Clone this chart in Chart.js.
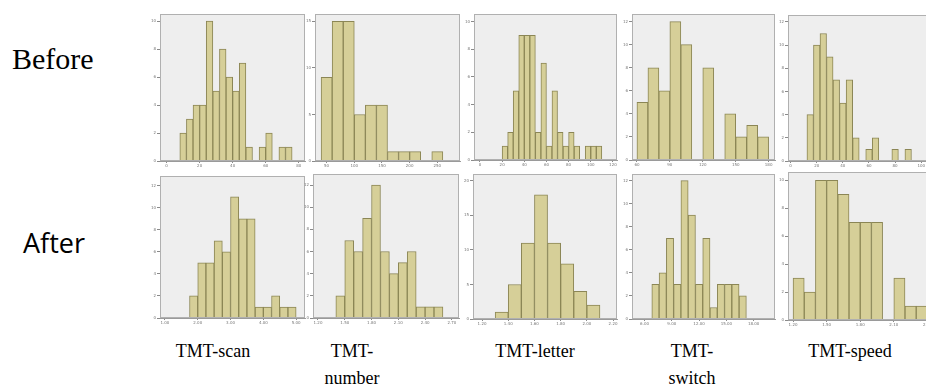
<!DOCTYPE html>
<html><head><meta charset="utf-8">
<script src="https://cdn.jsdelivr.net/npm/chart.js@4.4.0/dist/chart.umd.min.js"></script>
<style>
html,body{margin:0;padding:0;background:#fff;width:926px;height:390px;overflow:hidden;position:relative;}
canvas{position:absolute;}
.lbl{position:absolute;white-space:nowrap;line-height:1;color:#000;}
.row{font-family:'Liberation Serif','Times New Roman',serif;font-size:30px;}
.after{font-family:'Open Sans',sans-serif;font-size:27px;}
.cap{font-family:'Liberation Serif','Times New Roman',serif;font-size:18px;transform:translateX(-50%);}
</style></head><body>
<div class="lbl row" style="left:12px;top:44px;">Before</div>
<div class="lbl after" style="left:23px;top:229px;">After</div>
<div class="lbl cap" style="left:213px;top:342px;">TMT-scan</div>
<div class="lbl cap" style="left:352px;top:342px;">TMT-</div>
<div class="lbl cap" style="left:352px;top:369px;">number</div>
<div class="lbl cap" style="left:535px;top:342px;">TMT-letter</div>
<div class="lbl cap" style="left:692px;top:342px;">TMT-</div>
<div class="lbl cap" style="left:692px;top:369px;">switch</div>
<div class="lbl cap" style="left:850px;top:342px;">TMT-speed</div>
<script>
// ---- data (bin centres and counts) ----
const scanBeforeBins   = [10,14,18,22,26,30,34,38,42,46,50,54,58,62,66,70,74];
const scanBeforeCounts = [2,3,4,4,10,5,8,6,5,7,1,0,1,2,0,1,1];

const numberBeforeBins   = [50,70,90,110,130,150,170,190,210,230,250];
const numberBeforeCounts = [9,15,15,5,6,6,1,1,1,0,1];

const letterBeforeBins   = [22.5,27.5,32.5,37.5,42.5,47.5,52.5,57.5,62.5,67.5,72.5,77.5,82.5,87.5,92.5,97.5,102.5,107.5];
const letterBeforeCounts = [1,2,5,9,9,9,2,7,1,5,2,1,2,1,0,1,1,1];

const switchBeforeBins   = [65,75,85,95,105,115,125,135,145,155,165,175];
const switchBeforeCounts = [5,8,6,12,10,0,8,0,4,2,3,2];

const speedBeforeBins   = [15,20,25,30,35,40,45,50,55,60,65,70,75,80,85,90];
const speedBeforeCounts = [4,10,11,9,7,5,7,2,0,1,2,0,0,1,0,1];

const scanAfterBins   = [1.875,2.125,2.375,2.625,2.875,3.125,3.375,3.625,3.875,4.125,4.375,4.625,4.875];
const scanAfterCounts = [2,5,5,7,6,11,9,9,1,1,2,1,1];

const numberAfterBins   = [1.45,1.55,1.65,1.75,1.85,1.95,2.05,2.15,2.25,2.35,2.45,2.55];
const numberAfterCounts = [2,7,6,9,12,6,4,5,6,1,1,1];

const letterAfterBins   = [1.35,1.45,1.55,1.65,1.75,1.85,1.95,2.05];
const letterAfterCounts = [1,5,11,18,11,8,4,2];

const switchAfterBins   = [7.2,8.0,8.8,9.6,10.4,11.2,12.0,12.8,13.6,14.4,15.2,16.0,16.8];
const switchAfterCounts = [3,4,7,3,12,9,3,7,1,3,3,3,2];

const speedAfterBins   = [1.25,1.35,1.45,1.55,1.65,1.75,1.85,1.95,2.05,2.15,2.25,2.35];
const speedAfterCounts = [3,2,10,10,9,7,7,7,0,3,1,1];

// ---- axis settings: [xMin, xMax, xStep, decimals, yMax, yStep] ----
const panels = [
  {bins: scanBeforeBins,   counts: scanBeforeCounts,   ax: [-4, 83.8, 20, 0, 10.5, 2],    rect: [160,14,305,161]},
  {bins: numberBeforeBins, counts: numberBeforeCounts, ax: [29, 291, 50, 0, 15.8, 5],     rect: [315,14,460,161]},
  {bins: letterBeforeBins, counts: letterBeforeCounts, ax: [-5.4, 123.7, 20, 0, 10.55, 2],rect: [474,14,617,160]},
  {bins: switchBeforeBins, counts: switchBeforeCounts, ax: [55.5, 185.8, 30, 0, 12.66, 2],rect: [632,14,775,160]},
  {bins: speedBeforeBins,  counts: speedBeforeCounts,  ax: [-2, 109, 20, 0, 12.6, 2],     rect: [788,15,933,161]},
  {bins: scanAfterBins,    counts: scanAfterCounts,    ax: [0.85, 5.27, 1, 2, 12.88, 2],  rect: [160,176,305,318]},
  {bins: numberAfterBins,  counts: numberAfterCounts,  ax: [1.144, 2.78, 0.3, 2, 13, 2],  rect: [313,174,459,318]},
  {bins: letterAfterBins,  counts: letterAfterCounts,  ax: [1.131, 2.23, 0.2, 2, 21, 5],  rect: [473,174,617,319]},
  {bins: switchAfterBins,  counts: switchAfterCounts,  ax: [4.62, 20.35, 3, 2, 12.57, 2], rect: [632,174,775,319]},
  {bins: speedAfterBins,   counts: speedAfterCounts,   ax: [1.155, 2.45, 0.3, 2, 10.6, 2],rect: [788,172,933,320]}
];

const Y_W = 12, X_H = 10, PAD_T = 4, PAD_R = 6;

const framePlugin = {
  id: 'frame',
  beforeDraw(chart) {
    const {ctx, chartArea: a} = chart;
    ctx.save();
    ctx.fillStyle = '#eeeeee';
    ctx.fillRect(a.left, a.top, a.right - a.left, a.bottom - a.top);
    ctx.restore();
  },
  afterDatasetsDraw(chart) {
    const {ctx, chartArea: a} = chart;
    ctx.save();
    ctx.strokeStyle = '#b0b0b0';
    ctx.lineWidth = 1;
    ctx.strokeRect(Math.round(a.left) + 0.5, Math.round(a.top) + 0.5,
                   Math.round(a.right - a.left) - 1, Math.round(a.bottom - a.top) - 1);
    ctx.restore();
  }
};

panels.forEach((p, i) => {
  const [L, T, R, B] = p.rect;
  const cv = document.createElement('canvas');
  const w = (R - L) + Y_W + PAD_R, h = (B - T) + PAD_T + X_H;
  cv.width = w; cv.height = h;
  cv.style.left = (L - Y_W) + 'px';
  cv.style.top = (T - PAD_T) + 'px';
  cv.style.width = w + 'px'; cv.style.height = h + 'px';
  document.body.appendChild(cv);
  const [xMin, xMax, xStep, dec, yMax, yStep] = p.ax;
  new Chart(cv, {
    type: 'bar',
    data: {
      datasets: [{
        data: p.bins.map((x, k) => ({x: x, y: p.counts[k]})),
        backgroundColor: '#d6cf98',
        borderColor: '#8b8655',
        borderWidth: 1,
        borderSkipped: 'start',
        barPercentage: 1,
        categoryPercentage: 1
      }]
    },
    plugins: [framePlugin],
    options: {
      responsive: false,
      animation: false,
      devicePixelRatio: 1,
      layout: {padding: {top: PAD_T, right: PAD_R, left: 0, bottom: 0}},
      plugins: {legend: {display: false}, tooltip: {enabled: false}},
      scales: {
        x: {
          type: 'linear', min: xMin, max: xMax, offset: false,
          grid: {display: true, drawOnChartArea: false, drawTicks: true, tickLength: 2, color: '#8a8a8a', offset: false},
          border: {display: true, color: '#9a9a9a'},
          ticks: {stepSize: xStep, includeBounds: false, autoSkip: false, maxRotation: 0, padding: 1,
                  font: {size: 4, family: 'DejaVu Sans'}, color: '#777',
                  callback: v => Number(v).toFixed(dec)},
          afterFit: s => { s.height = X_H; }
        },
        y: {
          min: 0, max: yMax,
          grid: {display: true, drawOnChartArea: false, drawTicks: true, tickLength: 3, color: '#8a8a8a'},
          border: {display: true, color: '#9a9a9a'},
          ticks: {stepSize: yStep, includeBounds: false, padding: 1,
                  font: {size: 4, family: 'DejaVu Sans'}, color: '#777'},
          afterFit: s => { s.width = Y_W; }
        }
      }
    }
  });
});
</script>
</body></html>
